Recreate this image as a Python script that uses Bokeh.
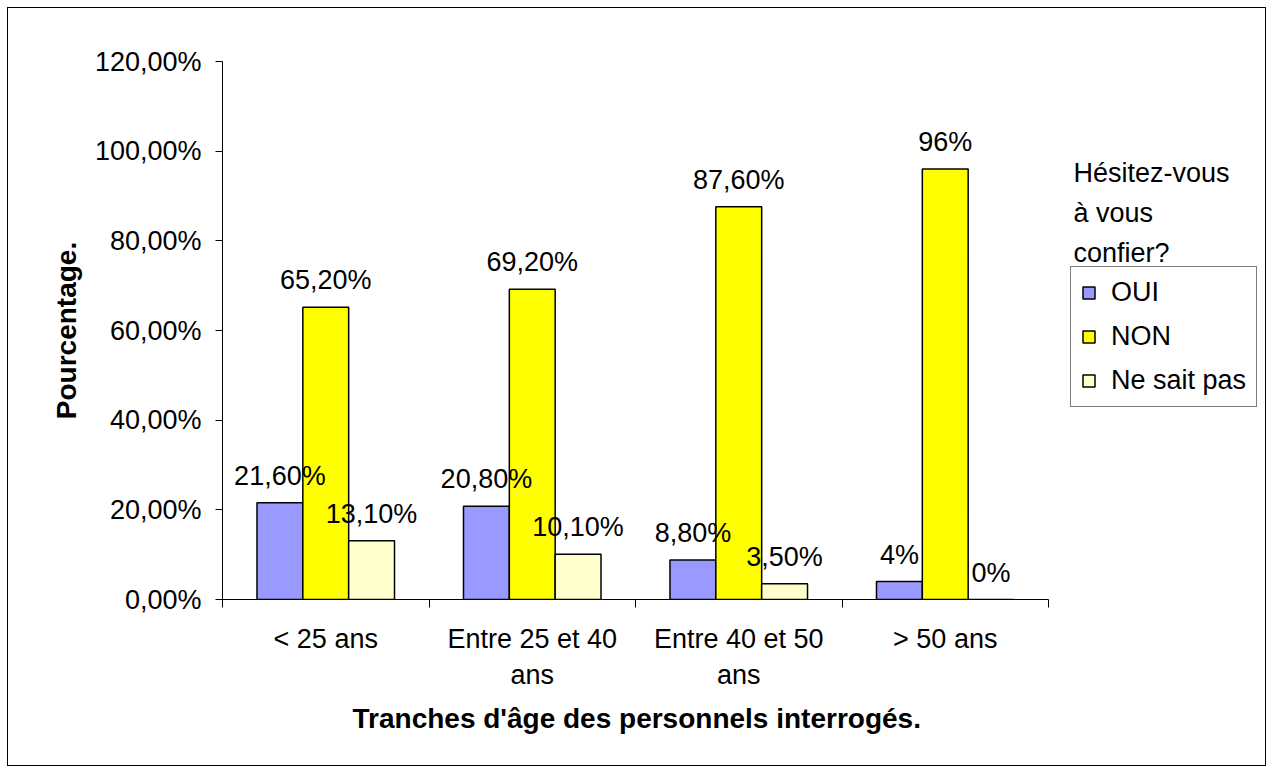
from bokeh.plotting import figure
from bokeh.models import FixedTicker, Legend, LegendItem, Label, Range1d, Title
from bokeh.embed import file_html
from bokeh.resources import INLINE
from bokeh.core.properties import value

categories = ["< 25 ans", "Entre 25 et 40\nans", "Entre 40 et 50\nans", "> 50 ans"]
series = ["OUI", "NON", "Ne sait pas"]
oui = [21.6, 20.8, 8.8, 4.0]
non = [65.2, 69.2, 87.6, 96.0]
nsp = [13.1, 10.1, 3.5, 0.0]
oui_labels = ["21,60%", "20,80%", "8,80%", "4%"]
non_labels = ["65,20%", "69,20%", "87,60%", "96%"]
nsp_labels = ["13,10%", "10,10%", "3,50%", "0%"]
y_ticks = [0, 20, 40, 60, 80, 100, 120]
y_tick_labels = ["0,00%", "20,00%", "40,00%", "60,00%", "80,00%", "100,00%", "120,00%"]
legend_title = ["Hésitez-vous", "à vous", "confier?"]
x_title = "Tranches d'âge des personnels interrogés."
y_title = "Pourcentage."
colors = ["#9999FF", "#FFFF00", "#FFFFCC"]

FONT = "Liberation Sans"
FS = "27px"
TFS = "28px"

n = len(categories)
# frame extends right of the category axis to host the legend (826 px for 4 categories, 1040 px frame)
x_end = n * 1040 / 826

p = figure(width=1257, height=757, x_range=Range1d(0, x_end), y_range=Range1d(0, 120),
           output_backend="svg", toolbar_location=None,
           min_border_left=214, min_border_right=3, min_border_top=53, min_border_bottom=166)
p.margin = (8, 8, 8, 8)
p.styles = {"outline": "1px solid black"}
p.background_fill_color = "white"
p.border_fill_color = "white"
p.outline_line_color = None
p.xgrid.grid_line_color = None
p.ygrid.grid_line_color = None

centers = [i + 0.5 for i in range(n)]
bw = 0.222
offsets = [-bw, 0.0, bw]
vals = [oui, non, nsp]
labs = [oui_labels, non_labels, nsp_labels]
renderers = []
for k in range(3):
    xs = [c + offsets[k] for c in centers]
    r = p.vbar(x=xs, top=vals[k], width=bw, bottom=0, fill_color=colors[k],
               line_color="black", line_width=1.5)
    renderers.append(r)
for k in range(3):
    xs = [c + offsets[k] for c in centers]
    p.text(x=xs, y=vals[k], text=labs[k], text_align="center", text_baseline="alphabetic",
           y_offset=-27, text_font=value(FONT), text_font_size=FS, text_color="black")

# y axis
ya = p.yaxis[0]
ya.ticker = FixedTicker(ticks=y_ticks)
ya.bounds = (0, 120)
ya.major_label_overrides = {t: l for t, l in zip(y_ticks, y_tick_labels)}
ya.major_label_text_font = FONT
ya.major_label_text_font_size = FS
ya.major_label_text_color = "black"
ya.major_tick_out = 7
ya.major_tick_in = 0
ya.major_label_standoff = 14
ya.axis_line_color = "black"
ya.major_tick_line_color = "black"
ya.axis_label = y_title
ya.axis_label_text_font = FONT
ya.axis_label_text_font_style = "bold"
ya.axis_label_text_font_size = TFS
ya.axis_label_text_color = "black"
ya.axis_label_standoff = 10

# x axis
xa = p.xaxis[0]
xa.ticker = FixedTicker(ticks=centers, minor_ticks=list(range(n + 1)))
xa.bounds = (0, n)
xa.major_label_overrides = {c: l for c, l in zip(centers, categories)}
xa.major_label_text_font = FONT
xa.major_label_text_font_size = FS
xa.major_label_text_color = "black"
xa.major_tick_out = 0
xa.major_tick_in = 0
xa.minor_tick_out = 8
xa.minor_tick_in = 0
xa.minor_tick_line_color = "black"
xa.major_label_standoff = 16
xa.axis_line_color = "black"

# x-axis title centred under the category axis (not under the whole frame)
p.add_layout(Title(text=x_title, align="left", offset=130, text_font=FONT,
                   text_font_style="bold", text_font_size=TFS, text_color="black",
                   standoff=17), "below")

legend = Legend(items=[LegendItem(label=s, renderers=[r]) for s, r in zip(series, renderers)],
                location=(848, 192), orientation="vertical")
legend.border_line_color = "black"
legend.border_line_width = 1
legend.background_fill_color = "white"
legend.background_fill_alpha = 1
legend.label_text_font = FONT
legend.label_text_font_size = FS
legend.label_text_color = "black"
legend.glyph_width = 15
legend.glyph_height = 15
legend.label_standoff = 15
legend.spacing = 13
legend.padding = 10
legend.margin = 0
legend.label_height = 30
p.add_layout(legend, "center")

for i, t in enumerate(legend_title):
    p.add_layout(Label(x=851, y=427 - 40 * i, x_units="screen", y_units="screen", text=t,
                       text_font=FONT, text_font_size=FS, text_color="black",
                       text_baseline="middle", text_align="left"))

open("out.html", "w").write(file_html(p, INLINE))
